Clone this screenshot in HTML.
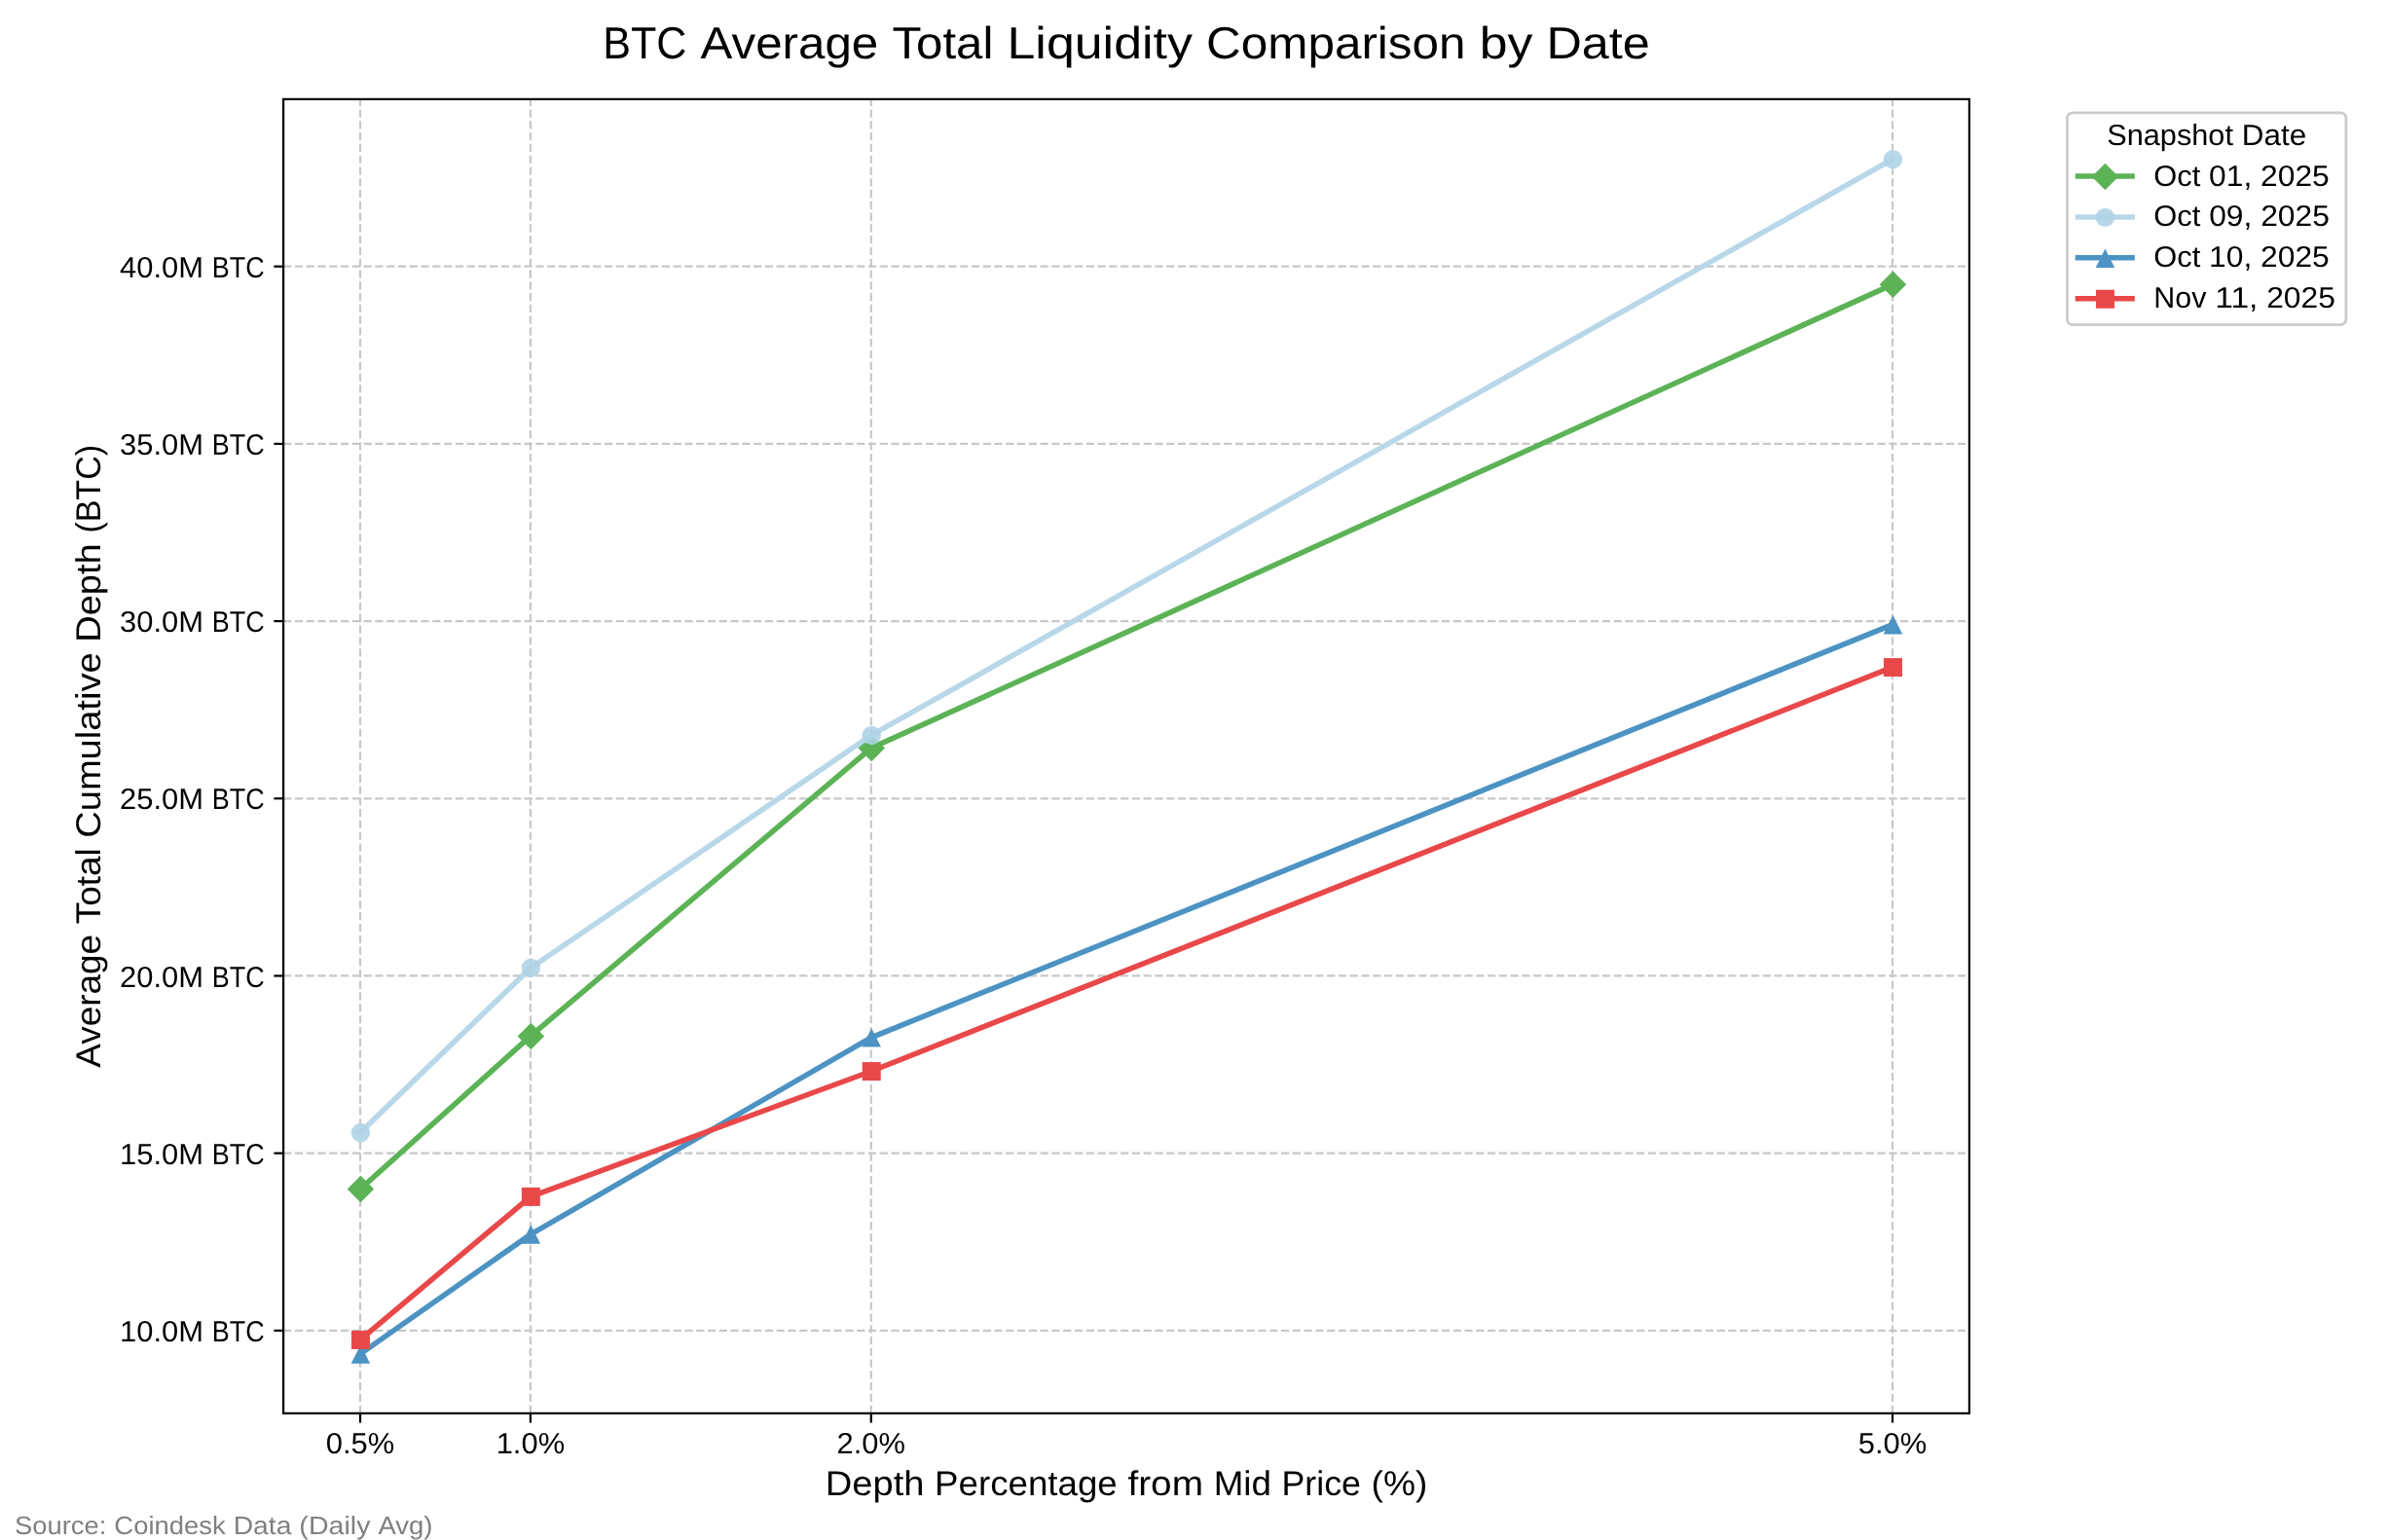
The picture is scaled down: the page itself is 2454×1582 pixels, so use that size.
<!DOCTYPE html>
<html lang="en">
<head>
<meta charset="utf-8">
<title>BTC Average Total Liquidity Comparison by Date</title>
<style>
html,body{margin:0;padding:0;background:#ffffff;}
body{width:2454px;height:1582px;overflow:hidden;}
svg{display:block;will-change:transform;}
text{text-rendering:geometricPrecision;font-family:"Liberation Sans",sans-serif;fill:#000000;}
.tick{font-size:30.28px;}
.lab{font-size:35.66px;}
.ttl{font-size:46.22px;}
.src{font-size:26.12px;fill:#808080;}
.grid line{stroke:#c8c8c8;stroke-width:2.22;stroke-dasharray:8.22 3.56;}
.ticks line{stroke:#000000;stroke-width:2.22;}
.ser polyline{fill:none;stroke-width:5.56;stroke-linejoin:round;stroke-linecap:square;}
.leg line{stroke-width:5.56;stroke-linecap:square;}
</style>
</head>
<body>
<svg width="2454" height="1582" viewBox="0 0 2454 1582">
<rect x="0" y="0" width="2454" height="1582" fill="#ffffff"/>
<text class="ttl" y="60.2"><tspan x="619.2" textLength="86.19" lengthAdjust="spacingAndGlyphs">BTC</tspan> <tspan x="719.53" textLength="182.76" lengthAdjust="spacingAndGlyphs">Average</tspan> <tspan x="916.44" textLength="103.94" lengthAdjust="spacingAndGlyphs">Total</tspan> <tspan x="1034.53" textLength="190.39" lengthAdjust="spacingAndGlyphs">Liquidity</tspan> <tspan x="1239.07" textLength="266.47" lengthAdjust="spacingAndGlyphs">Comparison</tspan> <tspan x="1519.69" textLength="54.59" lengthAdjust="spacingAndGlyphs">by</tspan> <tspan x="1588.42" textLength="106.38" lengthAdjust="spacingAndGlyphs">Date</tspan></text>
<g class="grid">
<line x1="370" y1="1451.87" x2="370" y2="101.9"/>
<line x1="544.9" y1="1451.87" x2="544.9" y2="101.9"/>
<line x1="894.8" y1="1451.87" x2="894.8" y2="101.9"/>
<line x1="1944" y1="1451.87" x2="1944" y2="101.9"/>
<line x1="291.1" y1="1366.86" x2="2022.9" y2="1366.86"/>
<line x1="291.1" y1="1184.67" x2="2022.9" y2="1184.67"/>
<line x1="291.1" y1="1002.47" x2="2022.9" y2="1002.47"/>
<line x1="291.1" y1="820.28" x2="2022.9" y2="820.28"/>
<line x1="291.1" y1="638.09" x2="2022.9" y2="638.09"/>
<line x1="291.1" y1="455.9" x2="2022.9" y2="455.9"/>
<line x1="291.1" y1="273.71" x2="2022.9" y2="273.71"/>
</g>
<g class="ser"><polyline points="370,1221.47 544.9,1064.42 894.8,768.54 1944,292.29" stroke="#5cb356"/>
<polygon points="370.45,1207.72 384.2,1221.47 370.45,1235.22 356.7,1221.47" fill="#5cb356"/>
<polygon points="545.35,1050.67 559.1,1064.42 545.35,1078.17 531.6,1064.42" fill="#5cb356"/>
<polygon points="895.25,754.79 909,768.54 895.25,782.29 881.5,768.54" fill="#5cb356"/>
<polygon points="1944.45,278.54 1958.2,292.29 1944.45,306.04 1930.7,292.29" fill="#5cb356"/>
</g>
<g class="ser"><polyline points="370,1163.53 544.9,994.46 894.8,755.42 1944,163.66" stroke="#b8d8e9"/>
<circle cx="370.45" cy="1163.53" r="9.72" fill="#aed3e6" fill-opacity="0.88"/>
<circle cx="545.35" cy="994.46" r="9.72" fill="#aed3e6" fill-opacity="0.88"/>
<circle cx="895.25" cy="755.42" r="9.72" fill="#aed3e6" fill-opacity="0.88"/>
<circle cx="1944.45" cy="163.66" r="9.72" fill="#aed3e6" fill-opacity="0.88"/>
</g>
<g class="ser"><polyline points="370,1390.91 544.9,1268.11 894.8,1065.88 1944,641.73" stroke="#4c93c3"/>
<polygon points="370.45,1381.19 380.17,1400.63 360.73,1400.63" fill="#4c93c3"/>
<polygon points="545.35,1258.39 555.07,1277.83 535.63,1277.83" fill="#4c93c3"/>
<polygon points="895.25,1056.16 904.97,1075.6 885.53,1075.6" fill="#4c93c3"/>
<polygon points="1944.45,632.01 1954.17,651.45 1934.73,651.45" fill="#4c93c3"/>
</g>
<g class="ser"><polyline points="370,1376.33 544.9,1229.27 894.8,1100.49 1944,685.46" stroke="#e94849"/>
<rect x="360.95" y="1366.93" width="19" height="19" fill="#e94849"/>
<rect x="535.85" y="1219.87" width="19" height="19" fill="#e94849"/>
<rect x="885.75" y="1091.09" width="19" height="19" fill="#e94849"/>
<rect x="1934.95" y="676.06" width="19" height="19" fill="#e94849"/>
</g>
<rect x="291.1" y="101.9" width="1731.8" height="1349.97" fill="none" stroke="#000000" stroke-width="2.22" stroke-linejoin="miter"/>
<g class="ticks">
<line x1="370" y1="1451.87" x2="370" y2="1461.59"/>
<line x1="544.9" y1="1451.87" x2="544.9" y2="1461.59"/>
<line x1="894.8" y1="1451.87" x2="894.8" y2="1461.59"/>
<line x1="1944" y1="1451.87" x2="1944" y2="1461.59"/>
<line x1="291.1" y1="1366.86" x2="281.38" y2="1366.86"/>
<line x1="291.1" y1="1184.67" x2="281.38" y2="1184.67"/>
<line x1="291.1" y1="1002.47" x2="281.38" y2="1002.47"/>
<line x1="291.1" y1="820.28" x2="281.38" y2="820.28"/>
<line x1="291.1" y1="638.09" x2="281.38" y2="638.09"/>
<line x1="291.1" y1="455.9" x2="281.38" y2="455.9"/>
<line x1="291.1" y1="273.71" x2="281.38" y2="273.71"/>
</g>
<text class="tick" y="1493.3"><tspan x="334.75" textLength="70.5" lengthAdjust="spacingAndGlyphs">0.5%</tspan></text>
<text class="tick" y="1493.3"><tspan x="509.65" textLength="70.5" lengthAdjust="spacingAndGlyphs">1.0%</tspan></text>
<text class="tick" y="1493.3"><tspan x="859.55" textLength="70.5" lengthAdjust="spacingAndGlyphs">2.0%</tspan></text>
<text class="tick" y="1493.3"><tspan x="1908.75" textLength="70.5" lengthAdjust="spacingAndGlyphs">5.0%</tspan></text>
<text class="tick" y="1377.9"><tspan x="123.1" textLength="85.91" lengthAdjust="spacingAndGlyphs">10.0M</tspan> <tspan x="217.85" textLength="53.85" lengthAdjust="spacingAndGlyphs">BTC</tspan></text>
<text class="tick" y="1195.71"><tspan x="123.1" textLength="85.91" lengthAdjust="spacingAndGlyphs">15.0M</tspan> <tspan x="217.85" textLength="53.85" lengthAdjust="spacingAndGlyphs">BTC</tspan></text>
<text class="tick" y="1013.51"><tspan x="123.1" textLength="85.91" lengthAdjust="spacingAndGlyphs">20.0M</tspan> <tspan x="217.85" textLength="53.85" lengthAdjust="spacingAndGlyphs">BTC</tspan></text>
<text class="tick" y="831.32"><tspan x="123.1" textLength="85.91" lengthAdjust="spacingAndGlyphs">25.0M</tspan> <tspan x="217.85" textLength="53.85" lengthAdjust="spacingAndGlyphs">BTC</tspan></text>
<text class="tick" y="649.13"><tspan x="123.1" textLength="85.91" lengthAdjust="spacingAndGlyphs">30.0M</tspan> <tspan x="217.85" textLength="53.85" lengthAdjust="spacingAndGlyphs">BTC</tspan></text>
<text class="tick" y="466.94"><tspan x="123.1" textLength="85.91" lengthAdjust="spacingAndGlyphs">35.0M</tspan> <tspan x="217.85" textLength="53.85" lengthAdjust="spacingAndGlyphs">BTC</tspan></text>
<text class="tick" y="284.75"><tspan x="123.1" textLength="85.91" lengthAdjust="spacingAndGlyphs">40.0M</tspan> <tspan x="217.85" textLength="53.85" lengthAdjust="spacingAndGlyphs">BTC</tspan></text>
<text class="lab" y="1536.4"><tspan x="847.8" textLength="101.65" lengthAdjust="spacingAndGlyphs">Depth</tspan> <tspan x="960.06" textLength="187.74" lengthAdjust="spacingAndGlyphs">Percentage</tspan> <tspan x="1158.4" textLength="77.66" lengthAdjust="spacingAndGlyphs">from</tspan> <tspan x="1246.67" textLength="59.25" lengthAdjust="spacingAndGlyphs">Mid</tspan> <tspan x="1316.53" textLength="81.41" lengthAdjust="spacingAndGlyphs">Price</tspan> <tspan x="1408.55" textLength="57.75" lengthAdjust="spacingAndGlyphs">(%)</tspan></text>
<text class="lab" y="0" transform="translate(103.2 1096.8) rotate(-90)"><tspan x="0" textLength="136.96" lengthAdjust="spacingAndGlyphs">Average</tspan> <tspan x="147.56" textLength="77.89" lengthAdjust="spacingAndGlyphs">Total</tspan> <tspan x="236.05" textLength="190.35" lengthAdjust="spacingAndGlyphs">Cumulative</tspan> <tspan x="437" textLength="101.58" lengthAdjust="spacingAndGlyphs">Depth</tspan> <tspan x="549.19" textLength="90.61" lengthAdjust="spacingAndGlyphs">(BTC)</tspan></text>
<g class="leg">
<rect x="2123.4" y="115.8" width="286.5" height="217.8" rx="5.56" ry="5.56" fill="#ffffff" stroke="#cccccc" stroke-width="2.78"/>
<text class="tick" y="148.9"><tspan x="2164.2" textLength="129.74" lengthAdjust="spacingAndGlyphs">Snapshot</tspan> <tspan x="2302.77" textLength="66.33" lengthAdjust="spacingAndGlyphs">Date</tspan></text>
<line x1="2134.49" y1="181.07" x2="2190.05" y2="181.07" stroke="#5cb356"/>
<polygon points="2162.45,167.72 2176.2,181.47 2162.45,195.22 2148.7,181.47" fill="#5cb356"/>
<text class="tick" y="190.6"><tspan x="2212.3" textLength="48.01" lengthAdjust="spacingAndGlyphs">Oct</tspan> <tspan x="2269.14" textLength="44.16" lengthAdjust="spacingAndGlyphs">01,</tspan> <tspan x="2322.13" textLength="70.67" lengthAdjust="spacingAndGlyphs">2025</tspan></text>
<line x1="2134.49" y1="222.96" x2="2190.05" y2="222.96" stroke="#b8d8e9"/>
<circle cx="2162.45" cy="223.36" r="9.72" fill="#aed3e6" fill-opacity="0.88"/>
<text class="tick" y="232.2"><tspan x="2212.3" textLength="48.04" lengthAdjust="spacingAndGlyphs">Oct</tspan> <tspan x="2269.17" textLength="44.19" lengthAdjust="spacingAndGlyphs">09,</tspan> <tspan x="2322.19" textLength="70.71" lengthAdjust="spacingAndGlyphs">2025</tspan></text>
<line x1="2134.49" y1="264.84" x2="2190.05" y2="264.84" stroke="#4c93c3"/>
<polygon points="2162.45,255.52 2172.17,274.96 2152.73,274.96" fill="#4c93c3"/>
<text class="tick" y="274.1"><tspan x="2212.3" textLength="48.01" lengthAdjust="spacingAndGlyphs">Oct</tspan> <tspan x="2269.14" textLength="44.16" lengthAdjust="spacingAndGlyphs">10,</tspan> <tspan x="2322.13" textLength="70.67" lengthAdjust="spacingAndGlyphs">2025</tspan></text>
<line x1="2134.49" y1="306.73" x2="2190.05" y2="306.73" stroke="#e94849"/>
<rect x="2152.95" y="297.73" width="19" height="19" fill="#e94849"/>
<text class="tick" y="316.1"><tspan x="2212.3" textLength="54.14" lengthAdjust="spacingAndGlyphs">Nov</tspan> <tspan x="2275.26" textLength="44.12" lengthAdjust="spacingAndGlyphs">11,</tspan> <tspan x="2328.2" textLength="70.6" lengthAdjust="spacingAndGlyphs">2025</tspan></text>
</g>
<text class="src" y="1576"><tspan x="15" textLength="94.37" lengthAdjust="spacingAndGlyphs">Source:</tspan> <tspan x="117.32" textLength="114.39" lengthAdjust="spacingAndGlyphs">Coindesk</tspan> <tspan x="239.67" textLength="59.74" lengthAdjust="spacingAndGlyphs">Data</tspan> <tspan x="307.37" textLength="73.07" lengthAdjust="spacingAndGlyphs">(Daily</tspan> <tspan x="388.4" textLength="56.1" lengthAdjust="spacingAndGlyphs">Avg)</tspan></text>
</svg>
</body>
</html>
